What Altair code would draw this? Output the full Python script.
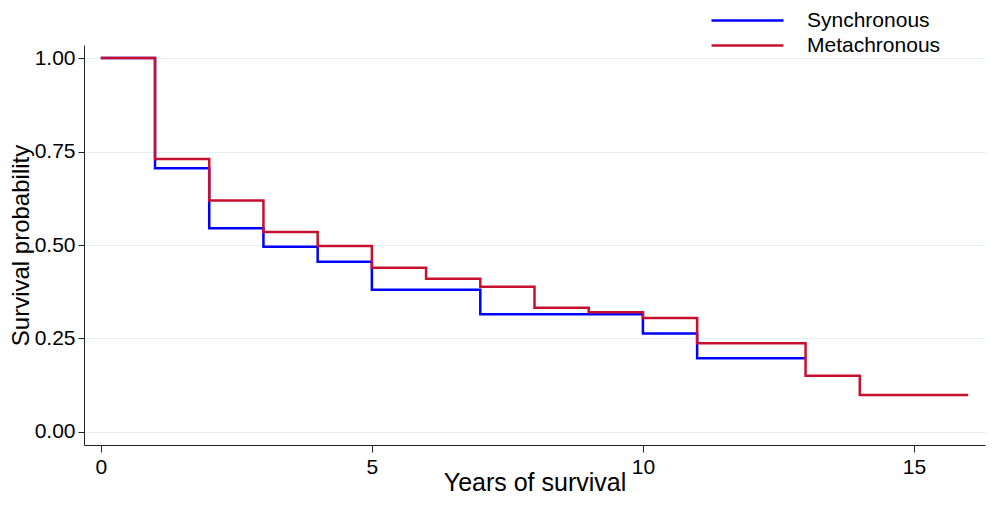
import altair as alt
import pandas as pd

# Kaplan-Meier style step estimates
years_sync = [0, 1, 2, 3, 4, 5, 7, 10, 11, 13]
surv_sync = [1.0, 0.705, 0.545, 0.495, 0.455, 0.38, 0.315, 0.263, 0.197, 0.197]

years_meta = [0, 1, 2, 3, 4, 5, 6, 7, 8, 9, 10, 11, 13, 14, 16]
surv_meta = [1.0, 0.73, 0.619, 0.535, 0.497, 0.439, 0.41, 0.388, 0.332, 0.32,
             0.305, 0.237, 0.15, 0.099, 0.099]

groups = ["Synchronous", "Metachronous"]
colors = ["#0000ff", "#c8102e"]

df = pd.concat([
    pd.DataFrame({"year": years_sync, "surv": surv_sync, "group": groups[0]}),
    pd.DataFrame({"year": years_meta, "surv": surv_meta, "group": groups[1]}),
])

font = "Liberation Sans"

chart = alt.Chart(df).mark_line(interpolate="step-after", strokeWidth=2.5).encode(
    x=alt.X("year:Q").scale(domain=[-0.31, 16.31], nice=False, zero=False).axis(
        values=[0, 5, 10, 15], format="d", grid=False, title="Years of survival",
        labelFontSize=21, titleFontSize=25, titleFontWeight="normal",
        tickSize=7, labelPadding=4, titleY=45, titleBaseline="alphabetic",
    ),
    y=alt.Y("surv:Q").scale(domain=[-0.035, 1.035], nice=False, zero=False).axis(
        values=[0, 0.25, 0.5, 0.75, 1.0], format=".2f", title="Survival probability",
        labelFontSize=21, titleFontSize=24, titleFontWeight="normal",
        tickSize=6, labelPadding=3, titleX=-56, titleBaseline="alphabetic",
        gridColor="#e6eff0", gridWidth=1,
    ),
    # wide flat swatch: the path is stretched so the row height stays small
    color=alt.Color("group:N").scale(domain=groups, range=colors).legend(
        title=None, orient="none", legendX=652, legendY=-36, padding=0,
        symbolType="M-3.6,0H3.6", symbolSize=400, symbolStrokeWidth=2.5,
        labelFontSize=21, labelOffset=48, rowPadding=3,
    ),
).properties(
    width=901,
    height=400,
    autosize=alt.AutoSizeParams(type="none"),
    padding={"left": 76, "top": 37, "right": 7, "bottom": 50},
).configure_view(
    stroke=None
).configure_axis(
    labelFont=font, titleFont=font, domainColor="#222222", tickColor="#222222",
    labelColor="#000000", titleColor="#000000",
).configure_legend(
    labelFont=font, labelColor="#000000",
)

chart.save("out.html", embed_options={"renderer": "svg", "actions": False})
